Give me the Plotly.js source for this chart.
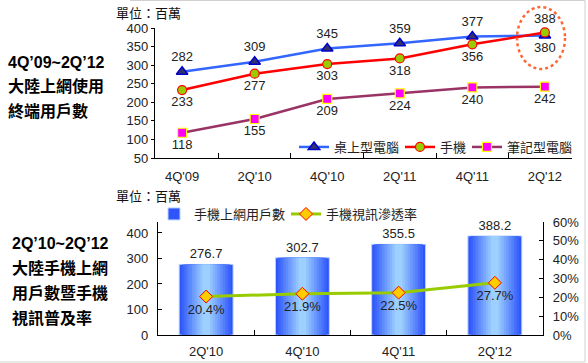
<!DOCTYPE html>
<html>
<head>
<meta charset="utf-8">
<script src="https://cdn.plot.ly/plotly-3.0.1.min.js"></script>
<style>
html,body{margin:0;padding:0;background:#fff;}
#chart{width:588px;height:363px;}
</style>
</head>
<body>
<div id="chart"></div>
<script>
// ---- data ----
const quarters = ["4Q'09", "2Q'10", "4Q'10", "2Q'11", "4Q'11", "2Q'12"];
const desktop = [282, 309, 345, 359, 377, 380];
const mobile = [233, 277, 303, 318, 356, 388];
const notebook = [118, 155, 209, 224, 240, 242];
const seriesNames = ["桌上型電腦", "手機", "筆記型電腦"];

const barQuarters = ["2Q'10", "4Q'10", "4Q'11", "2Q'12"];
const mobileUsers = [276.7, 302.7, 355.5, 388.2];
const videoRate = [20.4, 21.9, 22.5, 27.7];
const barNames = ["手機上網用戶數", "手機視訊滲透率"];

// ---- styling ----
const FONT = "Liberation Sans, Arial, 'Noto Sans CJK TC', sans-serif";
const W = 588, H = 363;
const px = v => v / W;
const py = v => 1 - v / H;
const lblFont = {family: FONT, size: 13, color: '#222'};
const legFont = {family: FONT, size: 13, color: '#222'};

const traces = [];

traces.push({
  type: 'scatter', mode: 'lines+markers+text', name: seriesNames[0],
  x: quarters, y: desktop, xaxis: 'x', yaxis: 'y', legend: 'legend', showlegend: true,
  text: desktop.map(String),
  textposition: desktop.map((v, i) => i === desktop.length - 1 ? 'bottom center' : 'top center'),
  textfont: lblFont, cliponaxis: false,
  line: {color: '#3366ff', width: 2.5},
  marker: {symbol: 'triangle-up', size: 10, color: '#333366', line: {color: '#0000cc', width: 1.5}}
});
traces.push({
  type: 'scatter', mode: 'lines+markers+text', name: seriesNames[1],
  x: quarters, y: mobile, xaxis: 'x', yaxis: 'y', legend: 'legend3',
  text: mobile.map(String),
  textposition: mobile.map((v, i) => i === mobile.length - 1 ? 'top center' : 'bottom center'),
  textfont: lblFont, cliponaxis: false,
  line: {color: '#ff0000', width: 2.5},
  marker: {symbol: 'circle', size: 9, color: '#99cc00', line: {color: '#ff0000', width: 1.2}}
});
traces.push({
  type: 'scatter', mode: 'lines+markers+text', name: seriesNames[2],
  x: quarters, y: notebook, xaxis: 'x', yaxis: 'y', legend: 'legend4',
  text: notebook.map(String), textposition: 'bottom center',
  textfont: lblFont, cliponaxis: false,
  line: {color: '#993366', width: 2.5},
  marker: {symbol: 'square', size: 9, color: '#ff00ff', line: {color: '#ffff00', width: 1.2}}
});

// bottom chart: gradient bars built from overlaid layers
const layers = 10;
const edge = [45, 85, 250], mid = [158, 208, 255];
for (let i = 0; i < layers; i++) {
  const t = i / (layers - 1);
  const c = edge.map((e, k) => Math.round(e + (mid[k] - e) * t));
  const w = 0.56 * (1 - i / layers * 0.95);
  traces.push({
    type: 'bar', name: barNames[0], x: barQuarters, y: mobileUsers,
    xaxis: 'x2', yaxis: 'y2', legend: 'legend2',
    width: w, showlegend: i === 0,
    marker: {color: `rgb(${c[0]},${c[1]},${c[2]})`, line: {width: i === 0 ? 1 : 0, color: '#b8d4ff'}},
    text: i === 0 ? mobileUsers.map(v => v.toFixed(1)) : undefined,
    textposition: i === 0 ? 'outside' : 'none',
    textfont: lblFont, cliponaxis: false, hoverinfo: 'skip'
  });
}
traces.push({
  type: 'scatter', mode: 'lines+markers+text', name: barNames[1],
  x: barQuarters, y: videoRate, xaxis: 'x2', yaxis: 'y3', legend: 'legend5',
  text: videoRate.map(v => v.toFixed(1) + '%'), textposition: 'bottom center',
  textfont: lblFont, cliponaxis: false,
  line: {color: '#99cc00', width: 3},
  marker: {symbol: 'diamond', size: 10, color: '#ffcc00', line: {color: '#ff0000', width: 1}}
});

const axisCommon = {
  showgrid: false, zeroline: false, showline: true, linecolor: '#000', linewidth: 1.2,
  tickfont: {family: FONT, size: 13, color: '#222'}, tickcolor: '#000', fixedrange: true
};

function leg(textX, yc) {
  return {
    orientation: 'h', x: px(textX - 40), y: py(yc), xanchor: 'left', yanchor: 'middle',
    bgcolor: 'rgba(0,0,0,0)', font: legFont, itemwidth: 30, borderwidth: 0, visible: true
  };
}

const layout = {
  width: W, height: H, showlegend: true,
  margin: {l: 0, r: 0, t: 0, b: 0, autoexpand: false},
  paper_bgcolor: '#fff', plot_bgcolor: 'rgba(0,0,0,0)',
  font: {family: FONT, size: 13, color: '#222'},
  barmode: 'overlay',
  xaxis: Object.assign({}, axisCommon, {
    domain: [px(155), px(572)], anchor: 'y', type: 'category',
    ticks: 'inside', tickson: 'boundaries', ticklen: 5, ticklabelstandoff: 6
  }),
  yaxis: Object.assign({}, axisCommon, {
    domain: [py(158), py(28)], anchor: 'x', range: [50, 400], dtick: 50,
    ticks: 'outside', ticklen: 3
  }),
  xaxis2: Object.assign({}, axisCommon, {
    domain: [px(158), px(543)], anchor: 'y2', type: 'category',
    ticks: 'inside', tickson: 'boundaries', ticklen: 5, ticklabelstandoff: 4
  }),
  yaxis2: Object.assign({}, axisCommon, {
    domain: [py(335), py(222)], anchor: 'x2', range: [0, 443], tickvals: [0, 100, 200, 300, 400],
    ticks: 'inside', ticklen: 4, ticklabelstandoff: 6
  }),
  yaxis3: Object.assign({}, axisCommon, {
    overlaying: 'y2', side: 'right', anchor: 'x2', range: [0, 60], dtick: 10, ticksuffix: '%',
    ticks: 'inside', ticklen: 4, ticklabelstandoff: 6
  }),
  legend: leg(334, 147),
  legend3: leg(440, 147),
  legend4: leg(507, 147),
  legend2: leg(194, 214),
  legend5: leg(326, 214),
  shapes: [
    {type: 'circle', xref: 'paper', yref: 'paper', x0: px(517), x1: px(565), y0: py(69), y1: py(7),
     line: {color: '#ff6633', width: 2.5, dash: 'dot'}},
    {type: 'line', xref: 'paper', yref: 'paper', x0: px(130), x1: px(585), y0: py(0.5), y1: py(0.5),
     line: {color: '#d0d0d0', width: 1}},
    {type: 'line', xref: 'paper', yref: 'paper', x0: px(585), x1: px(585), y0: py(0.5), y1: py(362),
     line: {color: '#d0d0d0', width: 1}},
    {type: 'line', xref: 'paper', yref: 'paper', x0: 0, x1: px(585), y0: py(362), y1: py(362),
     line: {color: '#d0d0d0', width: 1}}
  ],
  annotations: [
    {text: '單位：百萬', xref: 'paper', yref: 'paper', x: px(114), y: py(13), xanchor: 'left', yanchor: 'middle',
     showarrow: false, font: {family: FONT, size: 13, color: '#111'}},
    {text: '單位：百萬', xref: 'paper', yref: 'paper', x: px(114), y: py(196), xanchor: 'left', yanchor: 'middle',
     showarrow: false, font: {family: FONT, size: 13, color: '#111'}},
    {text: '<b>4Q’09~2Q’12</b>', xref: 'paper', yref: 'paper', x: px(6), y: py(63), xanchor: 'left', yanchor: 'middle',
     showarrow: false, font: {family: FONT, size: 16, color: '#000'}},
    {text: '<b>大陸上網使用</b>', xref: 'paper', yref: 'paper', x: px(6), y: py(87), xanchor: 'left', yanchor: 'middle',
     showarrow: false, font: {family: FONT, size: 16, color: '#000'}},
    {text: '<b>終端用戶數</b>', xref: 'paper', yref: 'paper', x: px(6), y: py(111), xanchor: 'left', yanchor: 'middle',
     showarrow: false, font: {family: FONT, size: 16, color: '#000'}},
    {text: '<b>2Q’10~2Q’12</b>', xref: 'paper', yref: 'paper', x: px(10), y: py(243), xanchor: 'left', yanchor: 'middle',
     showarrow: false, font: {family: FONT, size: 16, color: '#000'}},
    {text: '<b>大陸手機上網</b>', xref: 'paper', yref: 'paper', x: px(10), y: py(268), xanchor: 'left', yanchor: 'middle',
     showarrow: false, font: {family: FONT, size: 16, color: '#000'}},
    {text: '<b>用戶數暨手機</b>', xref: 'paper', yref: 'paper', x: px(10), y: py(293), xanchor: 'left', yanchor: 'middle',
     showarrow: false, font: {family: FONT, size: 16, color: '#000'}},
    {text: '<b>視訊普及率</b>', xref: 'paper', yref: 'paper', x: px(10), y: py(318), xanchor: 'left', yanchor: 'middle',
     showarrow: false, font: {family: FONT, size: 16, color: '#000'}}
  ]
};

Plotly.newPlot('chart', traces, layout, {staticPlot: true, displayModeBar: false});
</script>
</body>
</html>
